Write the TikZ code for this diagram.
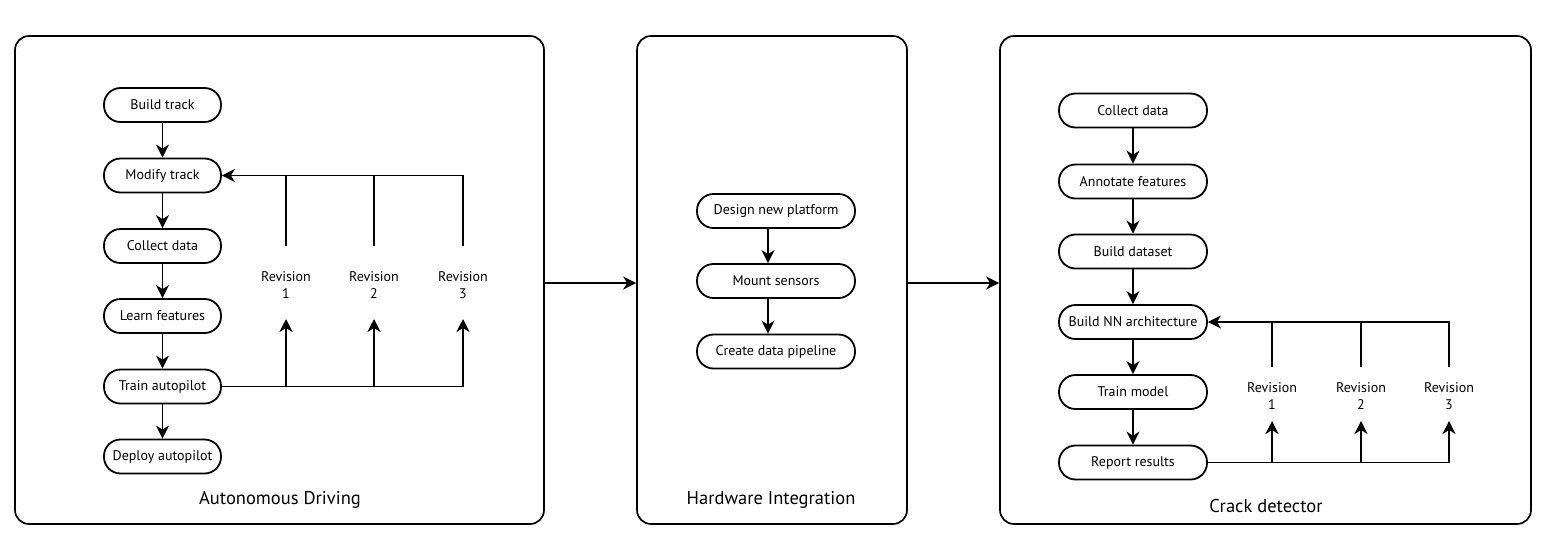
\documentclass[tikz,border=0pt]{standalone}
\usepackage{fontspec}
\setmainfont{PT Sans}
\usetikzlibrary{arrows.meta}
\begin{document}
\begin{tikzpicture}[x=1pt,y=-1pt,
 panel/.style={draw,line width=1.7pt,rounded corners=14pt,minimum width=#1,minimum height=488pt,inner sep=0pt},
 stepbox/.style={draw,line width=1.8pt,rounded corners=16.5pt,minimum width=#1,minimum height=34pt,inner sep=0pt,font=\fontsize{14}{16}\selectfont},
 arr/.style={line width=1.8pt,-{Stealth[length=13pt,width=13pt,inset=4pt]}},
 ln/.style={line width=1.8pt},
 rev/.style={align=center,font=\fontsize{14}{17.5}\selectfont,inner sep=0pt},
 ttl/.style={font=\fontsize{18.5}{22}\selectfont,inner sep=0pt}]
\useasboundingbox[fill=white] (0,0) rectangle (1549,558);

% ---------- Panel 1 ----------
\node[panel=529pt] (P1) at (279.5,280) {};
\node[ttl] (T1) at (280,500) {Autonomous Driving};
\node[stepbox=117pt] (a1) at (162.5,105) {Build track};
\node[stepbox=117pt] (a2) at (162.5,175.5) {Modify track};
\node[stepbox=117pt] (a3) at (162.5,246) {Collect data};
\node[stepbox=117pt] (a4) at (162.5,316) {Learn features};
\node[stepbox=117pt] (a5) at (162.5,386.5) {Train autopilot};
\node[stepbox=117pt] (a6) at (162.5,456.5) {Deploy autopilot};
\foreach \i/\j in {a1/a2,a2/a3,a3/a4,a4/a5,a5/a6} \draw[arr] (\i) -- (\j);
\node[rev] (r1) at (286,285) {Revision\\1};
\node[rev] (r2) at (374,285) {Revision\\2};
\node[rev] (r3) at (463,285) {Revision\\3};
\coordinate (u1) at (286,246); \coordinate (u2) at (374,246); \coordinate (u3) at (463,246);
\coordinate (d1) at (286,319); \coordinate (d2) at (374,319); \coordinate (d3) at (463,319);
\draw[arr] (u3) |- (a2.east);
\draw[ln] (u1) -- (u1 |- a2.east);
\draw[ln] (u2) -- (u2 |- a2.east);
\draw[arr] (a5.east) -| (d3);
\draw[arr] (d1 |- a5.east) -- (d1);
\draw[arr] (d2 |- a5.east) -- (d2);

% ---------- Panel 2 ----------
\node[panel=270pt] (P2) at (772,280) {};
\node[ttl] (T2) at (771,500) {Hardware Integration};
\node[stepbox=158pt] (b1) at (776,211) {Design new platform};
\node[stepbox=158pt] (b2) at (776,281) {Mount sensors};
\node[stepbox=158pt] (b3) at (776,351.5) {Create data pipeline};
\draw[arr] ([xshift=-8pt]b1.south) -- ([xshift=-8pt]b2.north);
\draw[arr] ([xshift=-8pt]b2.south) -- ([xshift=-8pt]b3.north);

% ---------- Panel 3 ----------
\node[panel=531pt] (P3) at (1265.5,280) {};
\node[ttl] (T3) at (1266,506) {Crack detector};
\node[stepbox=148pt] (c1) at (1133,110.5) {Collect data};
\node[stepbox=148pt] (c2) at (1133,181.5) {Annotate features};
\node[stepbox=148pt] (c3) at (1133,251.5) {Build dataset};
\node[stepbox=148pt] (c4) at (1133,322) {Build NN architecture};
\node[stepbox=148pt] (c5) at (1133,392) {Train model};
\node[stepbox=148pt] (c6) at (1133,462.5) {Report results};
\foreach \i/\j in {c1/c2,c2/c3,c3/c4,c4/c5,c5/c6} \draw[arr] (\i) -- (\j);
\node[rev] (s1) at (1272,396) {Revision\\1};
\node[rev] (s2) at (1361,396) {Revision\\2};
\node[rev] (s3) at (1449,396) {Revision\\3};
\coordinate (v1) at (1272,367); \coordinate (v2) at (1361,367); \coordinate (v3) at (1449,367);
\coordinate (e1) at (1272,421); \coordinate (e2) at (1361,421); \coordinate (e3) at (1449,421);
\draw[arr] (v3) |- (c4.east);
\draw[ln] (v1) -- (v1 |- c4.east);
\draw[ln] (v2) -- (v2 |- c4.east);
\draw[arr] (c6.east) -| (e3);
\draw[arr] (e1 |- c6.east) -- (e1);
\draw[arr] (e2 |- c6.east) -- (e2);

% ---------- Between panels ----------
\draw[arr] ([yshift=-3pt]P1.east) -- ([yshift=-3pt]P2.west);
\draw[arr] ([yshift=-3pt]P2.east) -- ([yshift=-3pt]P3.west);
\end{tikzpicture}
\end{document}
